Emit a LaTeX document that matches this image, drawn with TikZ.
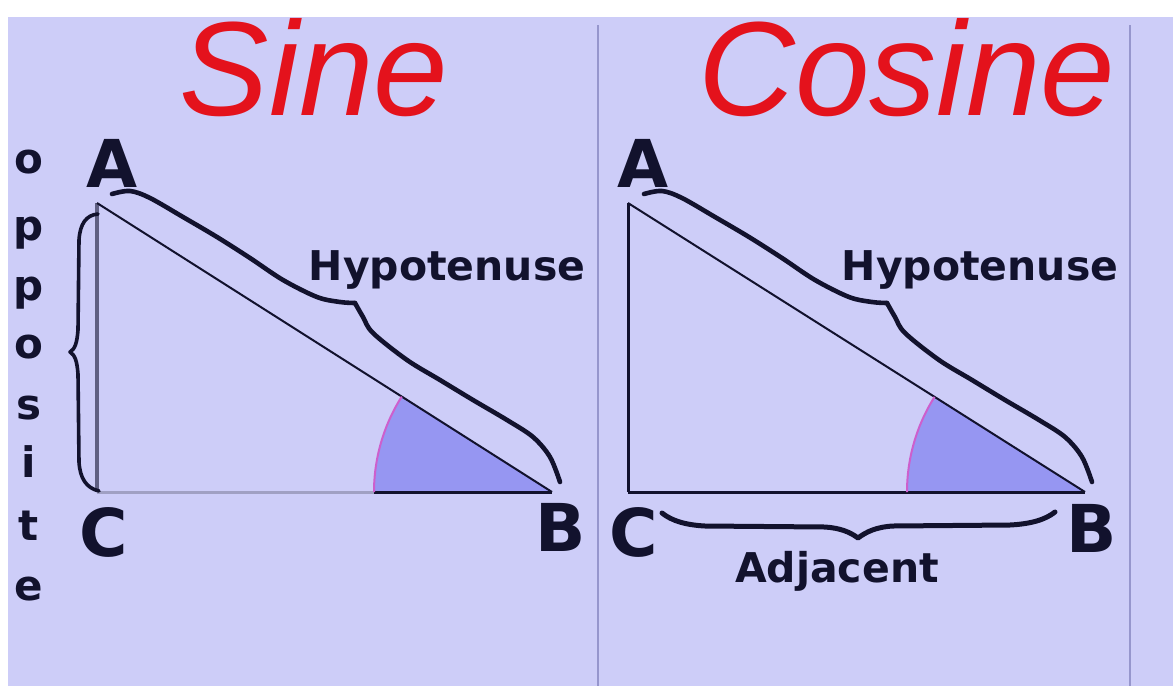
\documentclass[tikz,border=0pt]{standalone}
\usepackage{fontspec}
\setmainfont{DejaVu Sans}
\newfontfamily\titlefont{Liberation Sans}
\usetikzlibrary{calc}
\definecolor{bg}{RGB}{205,205,248}
\definecolor{divider}{RGB}{150,150,205}
\definecolor{titlered}{RGB}{228,18,28}
\definecolor{anglefill}{RGB}{150,150,242}
\definecolor{anglearc}{RGB}{205,95,205}
\definecolor{ink}{RGB}{18,18,45}
\definecolor{lightside}{RGB}{160,160,195}
\definecolor{midside}{RGB}{95,95,130}
\begin{document}
\begin{tikzpicture}[x=1pt,y=-1pt,
  title/.style={font=\titlefont\itshape\fontsize{134}{134}\selectfont, text=titlered, anchor=base, inner sep=0},
  vertex/.style={font=\bfseries\fontsize{66}{66}\selectfont, text=ink, inner sep=0},
  sidelabel/.style={font=\bfseries\fontsize{41}{41}\selectfont, text=ink, inner sep=0, anchor=base},
  letter/.style={font=\bfseries\fontsize{42}{42}\selectfont, text=ink, inner sep=0, anchor=base},
  bracepath/.style={draw=ink, line width=4.6pt, line cap=round, line join=round},
  hyp/.style={draw=ink, line width=2pt},
  darkside/.style={draw=ink, line width=3pt},
  sector/.style={fill=anglefill},
  sectorarc/.style={draw=anglearc, line width=2pt},
  dividerline/.style={draw=divider, line width=2pt}
]
\useasboundingbox (0,0) rectangle (1173,686);
\fill[white] (0,0) rectangle (1173,686);
\fill[bg] (8,17) rectangle (1173,686);
\draw[dividerline] (598,25) -- (598,686);
\draw[dividerline] (1130,25) -- (1130,686);

% ---------- Sine ----------
\node[title] (sinetitle) at (314,115) {Sine};
\coordinate (sA) at (97,203);
\coordinate (sC) at (97,492);
\coordinate (sB) at (552,492);
\fill[sector] (sB) -- ++(180:178) arc[start angle=180,end angle=212.4,radius=178] -- cycle;
\draw[draw=lightside, line width=3pt] (sC) -- (sB);
\draw[darkside] ($(sB)+(-178,0)$) -- (sB);
\draw[draw=midside, line width=3.5pt] (sA) -- (sC);
\draw[hyp] (sA) -- (sB);
\draw[sectorarc] ($(sB)+(-178,0)$) arc[start angle=180,end angle=212.4,radius=178];
% hypotenuse brace
\draw[bracepath] plot[smooth, tension=0.55] coordinates {(112,194) (130,191) (150,198) (183,217) (217,237) (250,258) (283,280) (317,297) (340,302) (355,303)};
\draw[bracepath] plot[smooth, tension=0.55] coordinates {(355,303) (363,317) (373,333) (407,360) (440,380) (473,400) (507,420) (533,437) (550,457) (560,482)};
% opposite brace
\draw[bracepath, line width=3.6pt] (98,214) .. controls (86,215) and (80,224) .. (79,240) -- (78,330) .. controls (77,343) and (75,349) .. (70,352) .. controls (75,355) and (77,361) .. (78,374) -- (79,462) .. controls (80,478) and (86,488) .. (99,491);
\node[vertex] (sAl) at (112,163) {A};
\node[vertex] (sCl) at (104,532) {C};
\node[vertex] (sBl) at (561,527) {B};
\node[sidelabel] (shyp) at (447,280) {Hypotenuse};
\node[letter] (o1) at (29,173) {o};
\node[letter] (o2) at (29,240) {p};
\node[letter] (o3) at (29,300) {p};
\node[letter] (o4) at (29,358) {o};
\node[letter] (o5) at (29,419) {s};
\node[letter] (o6) at (29,477) {i};
\node[letter] (o7) at (29,540) {t};
\node[letter] (o8) at (29,600) {e};

% ---------- Cosine ----------
\node[title] (costitle) at (907,115) {Cosine};
\coordinate (cA) at (628,203);
\coordinate (cC) at (628,492);
\coordinate (cB) at (1085,492);
\fill[sector] (cB) -- ++(180:178) arc[start angle=180,end angle=212.3,radius=178] -- cycle;
\draw[darkside] (cC) -- (cB);
\draw[darkside] (cA) -- (cC);
\draw[hyp] (cA) -- (cB);
\draw[sectorarc] ($(cB)+(-178,0)$) arc[start angle=180,end angle=212.3,radius=178];
\begin{scope}[shift={(532,0)}]
\draw[bracepath] plot[smooth, tension=0.55] coordinates {(112,194) (130,191) (150,198) (183,217) (217,237) (250,258) (283,280) (317,297) (340,302) (355,303)};
\draw[bracepath] plot[smooth, tension=0.55] coordinates {(355,303) (363,317) (373,333) (407,360) (440,380) (473,400) (507,420) (533,437) (550,457) (560,482)};
\end{scope}
% adjacent brace
\draw[bracepath, line width=5pt] (662,513) .. controls (672,521) and (686,525) .. (705,526) -- (825,527) .. controls (840,528) and (850,532) .. (858,538) .. controls (866,532) and (876,527) .. (893,526) -- (1010,525) .. controls (1030,524) and (1045,520) .. (1055,512);
\node[vertex] (cAl) at (643,163) {A};
\node[vertex] (cCl) at (634,532) {C};
\node[vertex] (cBl) at (1092,528) {B};
\node[sidelabel] (chyp) at (980,280) {Hypotenuse};
\node[sidelabel] (cadj) at (837,582) {Adjacent};
\end{tikzpicture}
\end{document}
